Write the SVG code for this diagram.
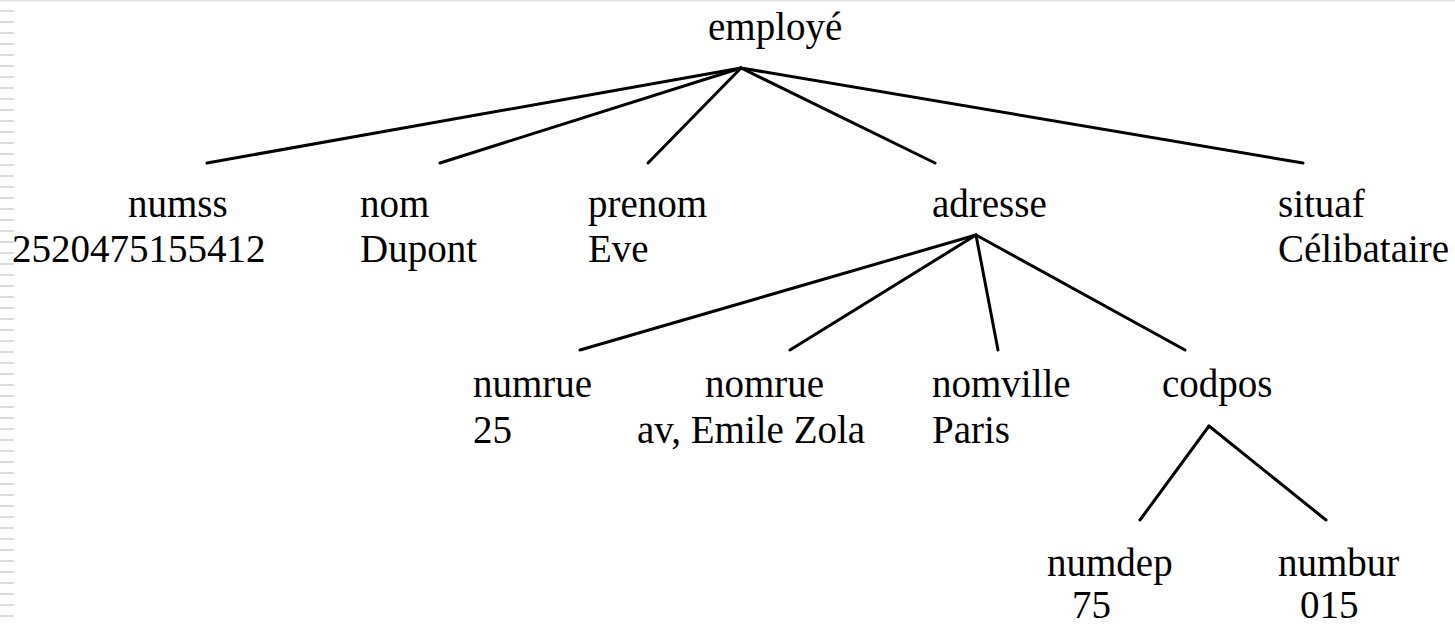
<svg xmlns="http://www.w3.org/2000/svg" width="1455" height="626" viewBox="0 0 1455 626">
<style>
text { font-family: "Liberation Serif", "Times New Roman", serif; font-size: 39px; fill: #000; }
.edge { stroke: #000; stroke-width: 3; stroke-linecap: round; fill: none; }
</style>
<defs>
<pattern id="stripes" x="0" y="10" width="15" height="11" patternUnits="userSpaceOnUse">
<rect x="0" y="0" width="14" height="2" fill="#dcdcdc"/>
</pattern>
</defs>
<rect width="1455" height="626" fill="#fff"/>
<rect x="0" y="0" width="1455" height="1.5" fill="#e0e0e0"/>
<rect x="0" y="10" width="15" height="616" fill="url(#stripes)"/>
<g id="connectors">
<line class="edge" x1="741" y1="68" x2="207" y2="163"/>
<line class="edge" x1="741" y1="68" x2="440" y2="163"/>
<line class="edge" x1="741" y1="68" x2="648" y2="163"/>
<line class="edge" x1="741" y1="68" x2="935" y2="163"/>
<line class="edge" x1="741" y1="68" x2="1303" y2="163"/>
<line class="edge" x1="976" y1="235" x2="580" y2="350"/>
<line class="edge" x1="976" y1="235" x2="790" y2="350"/>
<line class="edge" x1="976" y1="235" x2="998" y2="350"/>
<line class="edge" x1="976" y1="235" x2="1185" y2="350"/>
<line class="edge" x1="1209" y1="426" x2="1140" y2="520"/>
<line class="edge" x1="1209" y1="426" x2="1326" y2="520"/>
</g>
<g id="employe"><text x="708" y="40">employé</text></g>
<g id="numss"><text x="128" y="217">numss</text><text x="12" y="262">2520475155412</text></g>
<g id="nom"><text x="360" y="217">nom</text><text x="360" y="262">Dupont</text></g>
<g id="prenom"><text x="588" y="217">prenom</text><text x="588" y="262">Eve</text></g>
<g id="adresse"><text x="932" y="217">adresse</text></g>
<g id="situaf"><text x="1278" y="217">situaf</text><text x="1278" y="262">Célibataire</text></g>
<g id="numrue"><text x="473" y="397">numrue</text><text x="473" y="443">25</text></g>
<g id="nomrue"><text x="705" y="397">nomrue</text><text x="637" y="443">av, Emile Zola</text></g>
<g id="nomville"><text x="932" y="397">nomville</text><text x="932" y="443">Paris</text></g>
<g id="codpos"><text x="1162" y="397">codpos</text></g>
<g id="numdep"><text x="1047" y="576">numdep</text><text x="1072" y="618">75</text></g>
<g id="numbur"><text x="1278" y="576">numbur</text><text x="1300" y="618">015</text></g>
</svg>
